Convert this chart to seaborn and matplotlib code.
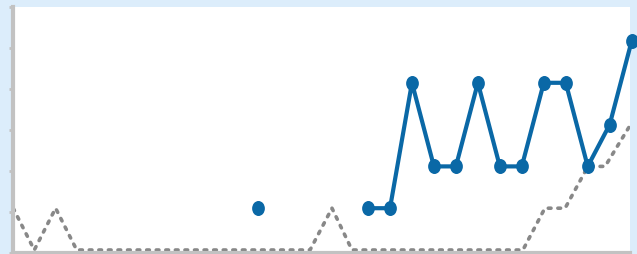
import numpy as np
import pandas as pd
import matplotlib
matplotlib.use("Agg")
import matplotlib.pyplot as plt
from matplotlib.path import Path
from matplotlib.transforms import Affine2D
import seaborn as sns

# data (x in sample steps)
days = list(range(29))
blue_vals = [np.nan] * 11 + [1] + [np.nan] * 4 + [1, 1, 4, 2, 2, 4, 2, 2, 4, 4, 2, 3, 5]
gray_x = [-0.15, 0.81, 1.78, 2.74, 13.36, 14.36, 15.27, 23.05, 24.05, 24.97, 26.01, 26.79, 27.95]
gray_vals = [1, 0, 1, 0, 0, 1, 0, 0, 1, 1, 2, 2, 3]

bg = "#dcedfb"
blue = "#0a68a6"
gray = "#888888"
axis_col = "#c2c2c2"

# split blue series into runs so gaps stay gaps
df = pd.DataFrame({"day": days, "val": blue_vals})
df["seg"] = df["val"].isna().cumsum()
df = df.dropna()

gdf = pd.DataFrame({"day": gray_x, "val": gray_vals})

sns.set_style("white")
fig = plt.figure(figsize=(6.37, 2.54), dpi=100)
fig.patch.set_facecolor(bg)
ax = fig.add_axes([13 / 637, 1.3 / 254, 617 / 637, 245.7 / 254])
ax.set_facecolor("white")

sns.lineplot(data=gdf, x="day", y="val", ax=ax, color=gray, lw=2.6,
             linestyle=(0, (0.75, 1.9)), dash_capstyle="round", zorder=2)

oval = Path.unit_circle().transformed(Affine2D().scale(0.85, 1.0))
sns.lineplot(data=df, x="day", y="val", units="seg", estimator=None, ax=ax,
             color=blue, lw=3.0, marker=oval, markersize=10.8, markeredgewidth=0,
             clip_on=False, zorder=3)

dx = 21.97
unit = 41.8
ax.set_xlim(-3.5 / dx, 613.5 / dx)
ylo = -2.7 / unit
yhi = 243 / unit
ax.set_ylim(ylo, yhi)
ax.set_yticks(np.linspace(ylo, yhi, 7))
ax.set_xticks([])
ax.set_yticklabels([])
ax.set_xlabel("")
ax.set_ylabel("")
ax.tick_params(axis="y", left=True, length=3, width=2, color=axis_col, pad=0)

for s in ["top", "right"]:
    ax.spines[s].set_visible(False)
for s in ["left", "bottom"]:
    ax.spines[s].set_color(axis_col)
    ax.spines[s].set_linewidth(3)

fig.savefig("out.png", dpi=100, facecolor=bg)
